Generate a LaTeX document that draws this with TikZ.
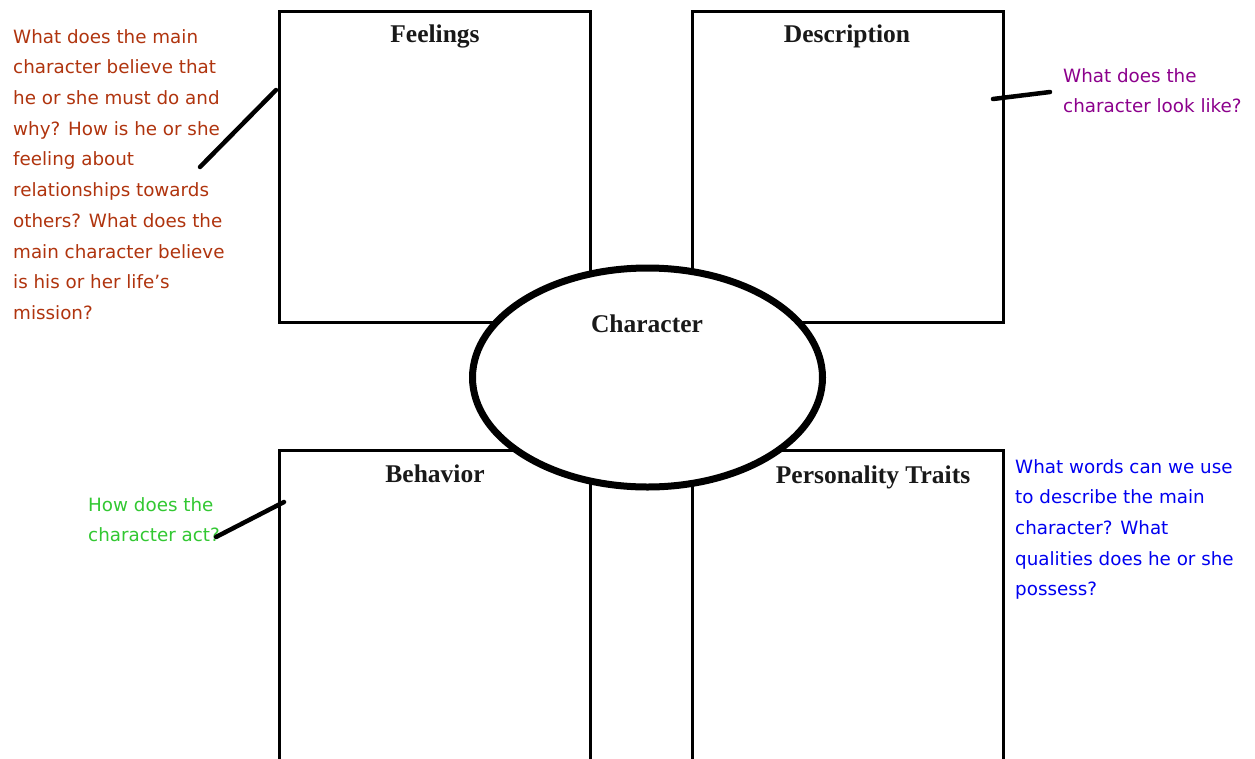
\documentclass[tikz,border=0pt]{standalone}
\usepackage{fontspec}
\setmainfont{Liberation Serif}
\newfontfamily\annotfont{DejaVu Sans}
\usetikzlibrary{shapes.geometric}
\definecolor{notered}{RGB}{176,52,14}
\definecolor{notepurple}{RGB}{140,0,140}
\definecolor{notegreen}{RGB}{50,200,50}
\definecolor{noteblue}{RGB}{0,0,240}
\tikzset{
  panel/.style={draw=black, line width=3pt, fill=white, rectangle, inner sep=0pt, minimum width=311pt, minimum height=311pt},
  paneltitle/.style={font=\fontsize{25.5}{29}\selectfont\bfseries, text=black!90, inner sep=0pt, anchor=base},
  note/.style={font=\annotfont\fontsize{18.3}{30.7}\selectfont, align=left, anchor=north west, inner sep=0pt},
  pointer/.style={line width=4.5pt, line cap=round, black},
}
\begin{document}
\begin{tikzpicture}[x=1pt,y=-1pt]
\useasboundingbox (0,0) rectangle (1255,758);
\clip (0,0) rectangle (1255,758);
\fill[white] (0,0) rectangle (1255,758);
% panels
\node[panel] (feel) at (434.5,166.5) {};
\node[panel] (desc) at (847.5,166.5) {};
\node[panel] (behav) at (434.5,605.5) {};
\node[panel] (pers) at (847.5,605.5) {};
% titles
\node[paneltitle] (feelT) at (435,42) {Feelings};
\node[paneltitle] (descT) at (847,42) {Description};
\node[paneltitle] (behavT) at (435,482) {Behavior};
\node[paneltitle] (persT) at (873,483) {Personality Traits};
% centre ellipse
\node[ellipse, draw=black, line width=7pt, fill=white, minimum width=350pt, minimum height=219pt, inner sep=0pt] (char) at (647.5,377.5) {};
\node[paneltitle] (charT) at (647,332) {Character};
% notes
\node[note, text=notered] (noteF) at (13,29) {What does the main\\character believe that\\he or she must do and\\why? How is he or she\\feeling about\\relationships towards\\others? What does the\\main character believe\\is his or her life’s\\mission?};
\node[note, text=notepurple] (noteD) at (1063,68) {What does the\\character look like?};
\node[note, text=notegreen] (noteB) at (88,497) {How does the\\character act?};
\node[note, text=noteblue] (noteP) at (1015,459) {What words can we use\\to describe the main\\character? What\\qualities does he or she\\possess?};
% pointers
\coordinate (pF1) at (200,167);
\coordinate (pF2) at (276,90);
\coordinate (pD1) at (993,99);
\coordinate (pD2) at (1050,92);
\coordinate (pB1) at (216,537);
\coordinate (pB2) at (284,502);
\draw[pointer] (pF1) -- (pF2);
\draw[pointer] (pD1) -- (pD2);
\draw[pointer] (pB1) -- (pB2);
\end{tikzpicture}
\end{document}
